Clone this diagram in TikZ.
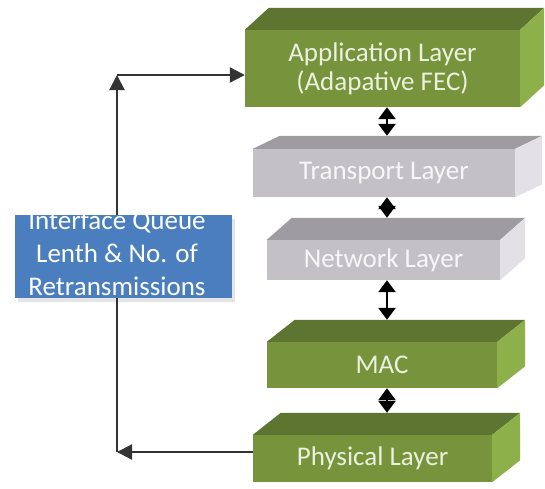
\documentclass[tikz,border=0pt]{standalone}
\usepackage{fontspec}
\setmainfont{Carlito}
\usepackage{tikz}
\usetikzlibrary{arrows.meta, shadows}
\definecolor{frontgreen}{HTML}{77933C}
\definecolor{topgreen}{HTML}{5D7530}
\definecolor{sidegreen}{HTML}{8EB04B}
\definecolor{textgreen}{HTML}{EBF1DE}
\definecolor{frontgrey}{HTML}{C3C1C5}
\definecolor{topgrey}{HTML}{9F9CA1}
\definecolor{sidegrey}{HTML}{E3E1E5}
\definecolor{textgrey}{HTML}{F7F7F7}
\definecolor{queueblue}{HTML}{4A7EBE}

\begin{document}
\begin{tikzpicture}[
    x=1pt, y=-1pt,
    layer/.style={rectangle, fill=front#1, text=text#1, inner sep=0pt,
                  align=center, font=\fontsize{27}{29}\selectfont},
    queue/.style={rectangle, fill=queueblue, minimum width=217pt, minimum height=83pt,
                  drop shadow={shadow xshift=3pt, shadow yshift=-4pt, fill=black!20}},
    queuetext/.style={align=center, text=white, font=\fontsize{27}{33}\selectfont},
    feedback/.style={-{Triangle[length=15pt 0 0, width=15pt 0 0]}, line width=2.2pt, color=black!80},
    wire/.style={line width=2.2pt, color=black!80},
    link/.style={{Triangle[length=12pt 0 0, width=17pt 0 0]}-{Triangle[length=12pt 0 0, width=17pt 0 0]},
                 line width=2.5pt, color=black}
]
\useasboundingbox (0,0) rectangle (545,488);

% Protocol stack (front faces)
\node[layer=green, minimum width=275pt, minimum height=77pt] (app) at (382.5,68.5)
    {Application Layer\\(Adapative FEC)};
\node[layer=grey, minimum width=262pt, minimum height=48pt] (tran) at (384,173) {Transport Layer};
\node[layer=grey, minimum width=233pt, minimum height=40pt] (net) at (383.5,260) {Network Layer};
\node[layer=green, minimum width=230pt, minimum height=46pt] (mac) at (382,365) {MAC};
\node[layer=green, minimum width=239pt, minimum height=47pt] (phys) at (372.5,458.5) {Physical Layer};

% Top and side faces
\foreach \n/\dx/\dy/\col in {app/24/22/green, tran/27/13/grey, net/25/22/grey,
                             mac/28/22/green, phys/28/22/green}{
    \fill[top\col] (\n.north west) -- ++(\dx,-\dy) -- ([shift={(\dx,-\dy)}]\n.north east)
        -- (\n.north east) -- cycle;
    \fill[side\col] (\n.north east) -- ([shift={(\dx,-\dy)}]\n.north east)
        -- ([shift={(\dx,-\dy)}]\n.south east) -- (\n.south east) -- cycle;
}

% Cross-layer info
\node[queue] (iq) at (123.5,256.5) {};
\node[queuetext] (iqtext) at (117,253) {Interface Queue\\Lenth \& No. of\\Retransmissions};

\coordinate (cnrtop) at (117,75);
\coordinate (cnrbot) at (117,452);
\coordinate (col) at (387,0);

% Feedback path
\draw[feedback] (phys.west |- cnrbot) -- (cnrbot);
\draw[wire] (cnrbot) -- (cnrbot |- iq.south);
\draw[feedback] (cnrtop |- iq.north) -- (cnrtop);
\draw[feedback] (cnrtop) -- (app.west |- cnrtop);

% Layer links
\draw[link] (app.south -| col) -- ([yshift=13pt]tran.north -| col);
\draw[link] (tran.south -| col) -- ([yshift=22pt]net.north -| col);
\draw[link] (net.south -| col) -- ([yshift=22pt]mac.north -| col);
\draw[link] (mac.south -| col) -- ([yshift=22pt]phys.north -| col);

\end{tikzpicture}
\end{document}
